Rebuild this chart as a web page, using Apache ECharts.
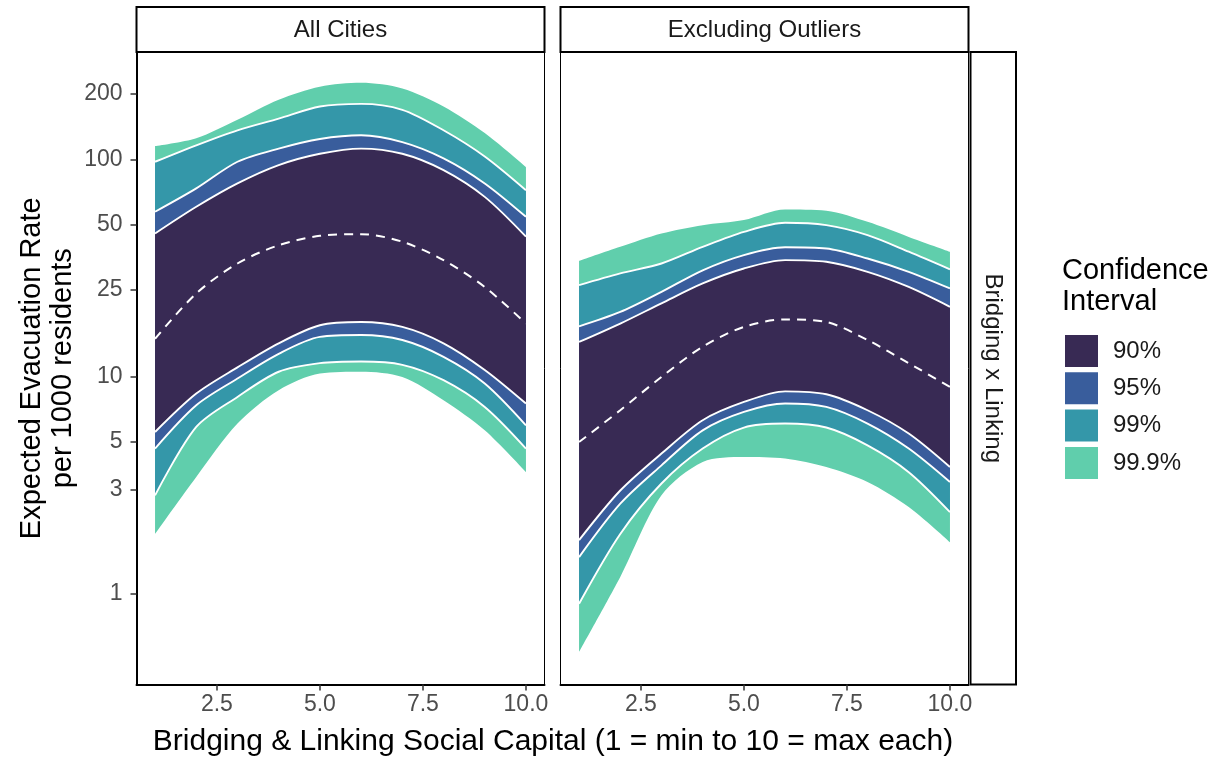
<!DOCTYPE html>
<html><head><meta charset="utf-8">
<script src="https://cdn.jsdelivr.net/npm/echarts@6/dist/echarts.min.js"></script>
<style>html,body{margin:0;padding:0;background:#fff}#c{width:1223px;height:759px}</style>
</head><body><div id="c"></div>
<script>
// ---------- data ----------
const xValues = [1, 2, 3, 4, 5, 6, 7, 8, 9, 10];
const panelTitles = ['All Cities', 'Excluding Outliers'];
const facetLabel = 'Bridging x Linking';
const levelNames = ['99.9%', '99%', '95%', '90%'];
const legendOrder = ['90%', '95%', '99%', '99.9%'];
const xTicks = [2.5, 5, 7.5, 10];
const yTicks = [1, 3, 5, 10, 25, 50, 100, 200];

// All Cities
const allLo999 = [1.88, 3.44, 6.06, 8.63, 10.3, 10.5, 9.93, 7.76, 5.64, 3.62];
const allLo99  = [2.83, 5.85, 8.04, 10.5, 11.5, 11.7, 11.3, 9.6, 7.23, 4.65];
const allLo95  = [4.65, 7.36, 9.77, 12.7, 15.2, 15.5, 14.7, 12.3, 9.27, 5.95];
const allLo90  = [5.54, 8.33, 11.0, 14.2, 17.2, 17.8, 16.9, 14.2, 10.7, 7.49];
const allMed   = [14.9, 24.1, 33.1, 40.2, 44.4, 45.2, 41.7, 34.3, 25.8, 17.5];
const allHi90  = [45.5, 60.4, 77.4, 94.0, 106, 112, 106, 89.1, 67.1, 44.0];
const allHi95  = [57.3, 73.4, 97.4, 112, 124, 129, 120, 101, 77.4, 54.3];
const allHi99  = [97.4, 116, 136, 154, 175, 180, 169, 136, 103, 72];
const allHi999 = [115, 125, 152, 188, 216, 225, 212, 175, 132, 92];

// Excluding Outliers
const exLo999 = [0.536, 1.19, 2.83, 4.03, 4.25, 4.18, 3.82, 3.26, 2.50, 1.72];
const exLo99  = [0.897, 1.88, 3.21, 4.65, 5.81, 6.06, 5.81, 4.81, 3.62, 2.37];
const exLo95  = [1.47, 2.59, 3.89, 5.64, 6.86, 7.50, 7.23, 6.06, 4.65, 3.26];
const exLo90  = [1.76, 2.98, 4.41, 6.28, 7.62, 8.53, 8.27, 6.98, 5.45, 3.82];
const exMed   = [4.98, 6.98, 9.94, 13.7, 16.9, 18.3, 17.8, 14.7, 11.5, 8.94];
const exHi90  = [14.4, 17.5, 21.7, 26.8, 31.4, 34.3, 33.7, 30.3, 25.8, 20.9];
const exHi95  = [17.0, 19.8, 24.5, 30.8, 36.2, 39.3, 38.8, 34.9, 30.3, 25.4];
const exHi99  = [26.3, 29.8, 33.1, 39.5, 46.3, 51.0, 49.7, 44.7, 37.5, 31.1];
const exHi999 = [34.0, 39.5, 45.5, 49.7, 52.5, 58.7, 57.9, 51.5, 43.9, 37.5];

// ---------- styling ----------
const levelColors = {'99.9%': '#60CEAC', '99%': '#3497A9', '95%': '#395D9C', '90%': '#382A54'};
const FONT = 'Liberation Sans, Arial, Helvetica, sans-serif';
const SMOOTH = 0.3;
const L = v => Math.log10(v);

const panels = [
  {bands: [[allLo999, allHi999], [allLo99, allHi99], [allLo95, allHi95], [allLo90, allHi90]], med: allMed},
  {bands: [[exLo999, exHi999], [exLo99, exHi99], [exLo95, exHi95], [exLo90, exHi90]], med: exMed}
];

const gridLeft = [136.5, 560.5];
const gridTop = 52, gridH = 632.5, gridW = 408;

const grids = [], xAxes = [], yAxes = [], series = [];
panels.forEach((pn, p) => {
  grids.push({left: gridLeft[p], top: gridTop, width: gridW, height: gridH, show: true,
    borderColor: '#000', borderWidth: 1, backgroundColor: 'transparent'});
  xAxes.push({type: 'value', gridIndex: p, min: 0.55, max: 10.45,
    axisLine: {show: true, onZero: false, lineStyle: {color: '#000', width: 2}},
    axisTick: {show: true, length: 6, customValues: xTicks, lineStyle: {color: '#333', width: 1.5}},
    axisLabel: {customValues: xTicks, formatter: v => Number(v).toFixed(1), fontSize: 23,
      color: '#4D4D4D', margin: 9, fontFamily: FONT},
    splitLine: {show: false}});
  yAxes.push({type: 'value', gridIndex: p, min: L(0.3806), max: L(312),
    axisLine: {show: p === 0, onZero: false, lineStyle: {color: '#000', width: 2}},
    axisTick: {show: p === 0, length: 6, customValues: yTicks.map(L), lineStyle: {color: '#333', width: 1.5}},
    axisLabel: {show: p === 0, customValues: yTicks.map(L),
      formatter: v => String(Math.round(Math.pow(10, v))), fontSize: 23, color: '#4D4D4D',
      margin: 14, fontFamily: FONT},
    splitLine: {show: false}});

  // ribbons: stacked (invisible lower base + band thickness). Column 0 = value (stacked), column 1 = x.
  pn.bands.forEach((b, i) => {
    const [lo, hi] = b;
    const stackId = 'p' + p + '_' + i;
    series.push({type: 'line', xAxisIndex: p, yAxisIndex: p, stack: stackId, stackStrategy: 'all',
      encode: {x: 1, y: 0},
      data: xValues.map((x, j) => [L(lo[j]), x]), symbol: 'none', smooth: SMOOTH, silent: true,
      lineStyle: {width: 0, opacity: 0}, emphasis: {disabled: true}, z: 2});
    series.push({name: levelNames[i], type: 'line', xAxisIndex: p, yAxisIndex: p, stack: stackId, stackStrategy: 'all',
      encode: {x: 1, y: 0},
      data: xValues.map((x, j) => [L(hi[j]) - L(lo[j]), x]), symbol: 'none', smooth: SMOOTH, silent: true,
      lineStyle: {width: 0, color: levelColors[levelNames[i]]},
      itemStyle: {color: levelColors[levelNames[i]]},
      areaStyle: {color: levelColors[levelNames[i]], opacity: 1}, emphasis: {disabled: true}, z: 2});
  });
  // white outlines of inner ribbons
  const outlines = [pn.bands[1][0], pn.bands[2][0], pn.bands[3][0], pn.bands[3][1], pn.bands[2][1], pn.bands[1][1]];
  outlines.forEach(arr => {
    series.push({type: 'line', xAxisIndex: p, yAxisIndex: p, data: xValues.map((x, j) => [x, L(arr[j])]),
      symbol: 'none', smooth: SMOOTH, silent: true, lineStyle: {color: '#fff', width: 1.9},
      emphasis: {disabled: true}, z: 3});
  });
  // median dashed
  series.push({type: 'line', xAxisIndex: p, yAxisIndex: p, data: xValues.map((x, j) => [x, L(pn.med[j])]),
    symbol: 'none', smooth: SMOOTH, silent: true, lineStyle: {color: '#fff', width: 2, type: [9, 7]},
    emphasis: {disabled: true}, z: 3});
});

const graphics = [];
panelTitles.forEach((t, p) => {
  graphics.push({type: 'rect', shape: {x: gridLeft[p], y: 7, width: gridW, height: 45},
    style: {fill: '#fff', stroke: '#000', lineWidth: 2}, z: 10});
  graphics.push({type: 'text', x: gridLeft[p] + gridW / 2, y: 30,
    style: {text: t, fontSize: 24, fontFamily: FONT, fill: '#1a1a1a', textAlign: 'center', textVerticalAlign: 'middle'}, z: 11});
});
graphics.push({type: 'rect', shape: {x: 970.5, y: gridTop, width: 45.5, height: gridH},
  style: {fill: '#fff', stroke: '#000', lineWidth: 2}, z: 10});
graphics.push({type: 'text', x: 993, y: gridTop + gridH / 2, rotation: -Math.PI / 2,
  style: {text: facetLabel, fontSize: 24, fontFamily: FONT, fill: '#1a1a1a', textAlign: 'center', textVerticalAlign: 'middle'}, z: 11});
graphics.push({type: 'text', x: 47, y: gridTop + gridH / 2, rotation: Math.PI / 2,
  style: {text: 'Expected Evacuation Rate\nper 1000 residents', fontSize: 29, lineHeight: 31, fontFamily: FONT,
    fill: '#000', textAlign: 'center', textVerticalAlign: 'middle'}, z: 11});
graphics.push({type: 'text', x: 553, y: 742,
  style: {text: 'Bridging & Linking Social Capital (1 = min to 10 = max each)', fontSize: 30, fontFamily: FONT,
    fill: '#000', textAlign: 'center', textVerticalAlign: 'middle'}, z: 11});
graphics.push({type: 'text', x: 1062, y: 255,
  style: {text: 'Confidence\nInterval', fontSize: 29, lineHeight: 31, fontFamily: FONT,
    fill: '#000', textAlign: 'left', textVerticalAlign: 'top'}, z: 11});

const chart = echarts.init(document.getElementById('c'), null, {renderer: 'canvas'});
chart.setOption({
  animation: false,
  backgroundColor: '#fff',
  grid: grids, xAxis: xAxes, yAxis: yAxes, series: series,
  legend: {
    show: true, orient: 'vertical', left: 1065, top: 335, padding: 0,
    itemWidth: 33, itemHeight: 32, itemGap: 5.3, selectedMode: false,
    data: legendOrder.map(n => ({name: n, icon: 'rect',
      itemStyle: {color: levelColors[n], opacity: 1, borderWidth: 0}})),
    textStyle: {fontSize: 24, fontFamily: FONT, color: '#1a1a1a', padding: [0, 0, 0, 10]}
  },
  graphic: graphics
});
</script></body></html>
